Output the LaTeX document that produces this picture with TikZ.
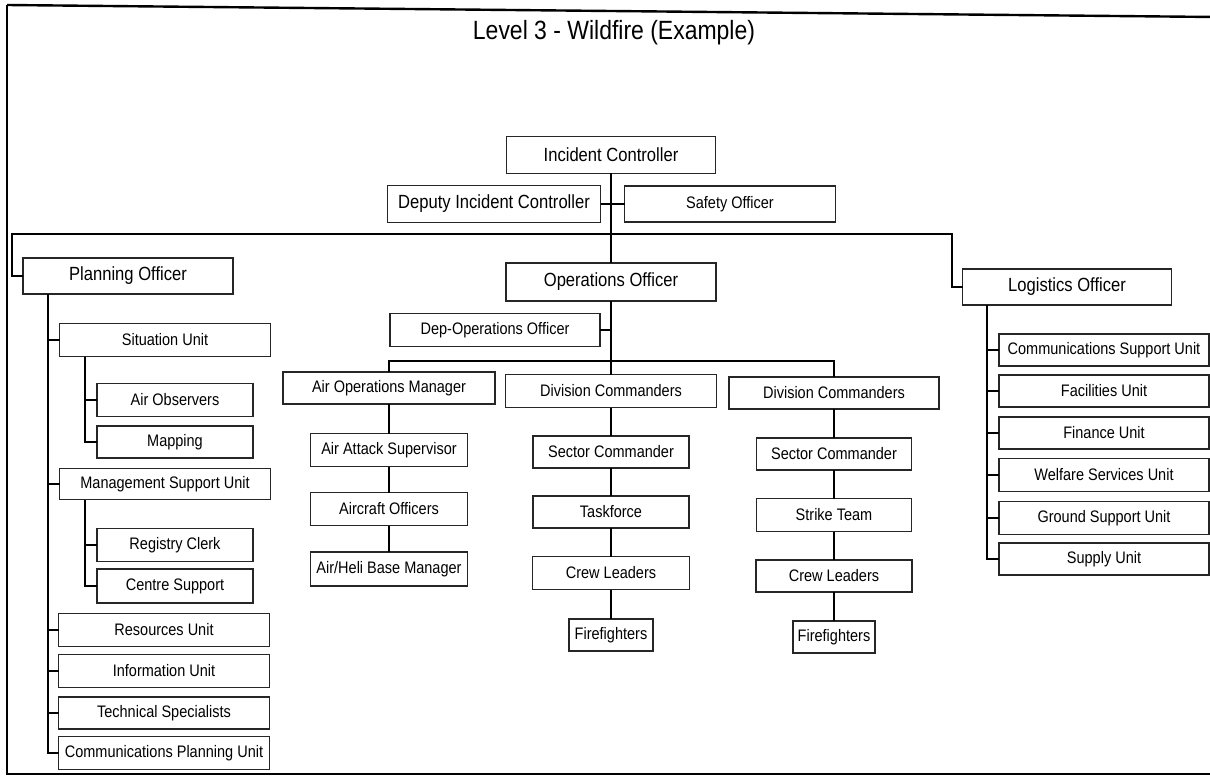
\documentclass[tikz,border=0pt]{standalone}
\usepackage{fontspec}
\setmainfont{Liberation Sans}[FakeStretch=0.87]
\begin{document}
\begin{tikzpicture}[x=0.75pt,y=-0.75pt,
  orgbox/.style={draw=black!85, line width=0.9pt, fill=white, inner sep=0pt, outer sep=0pt,
    align=center, font=\fontsize{12.5}{14}\selectfont},
  headbox/.style={orgbox, font=\fontsize{14.3}{16}\selectfont},
  sz/.style 2 args={minimum width=#1*0.75pt, minimum height=#2*0.75pt},
  link/.style={draw=black, line width=1.5pt},
  frame/.style={draw=black, line width=1.8pt}]
\useasboundingbox (0,0) rectangle (1210,781);

% page frame
\draw[frame] (7,5) -- (1215,17);
\draw[frame] (7,5) -- (7,774) -- (1215,774);

\node[font=\fontsize{19.8}{22}\selectfont] (title) at (614,33) {Level 3 - Wildfire (Example)};

% command
\node[headbox, sz={209}{37}] (ic) at (611,155) {Incident Controller};
\node[headbox, sz={213}{37}] (dic) at (494,204) {Deputy Incident Controller};
\node[orgbox, sz={211}{36}] (safety) at (730,204) {Safety Officer};

% sections
\node[headbox, sz={210}{36}] (po) at (128,276) {Planning Officer};
\node[headbox, sz={210}{38}] (ops) at (611,282) {Operations Officer};
\node[headbox, sz={209}{36}] (lo) at (1067,287) {Logistics Officer};

% operations
\node[orgbox, sz={210}{33}] (depops) at (495,330) {Dep-Operations Officer};
\node[orgbox, sz={212}{32}] (aom) at (389,388) {Air Operations Manager};
\node[orgbox, sz={211}{33}] (dca) at (611,391) {Division Commanders};
\node[orgbox, sz={210}{32}] (dcb) at (834,393) {Division Commanders};

\node[orgbox, sz={157}{33}] (aas) at (389,450) {Air Attack Supervisor};
\node[orgbox, sz={157}{33}] (acft) at (389,509) {Aircraft Officers};
\node[orgbox, sz={157}{34}] (ahbm) at (389,569) {Air/Heli Base Manager};

\node[orgbox, sz={156}{32}] (sca) at (611,452) {Sector Commander};
\node[orgbox, sz={156}{32}] (tf) at (611,512) {Taskforce};
\node[orgbox, sz={157}{33}] (cla) at (611,573) {Crew Leaders};
\node[orgbox, sz={84}{32}] (ffa) at (611,635) {Firefighters};

\node[orgbox, sz={155}{32}] (scb) at (834,454) {Sector Commander};
\node[orgbox, sz={155}{33}] (stk) at (834,515) {Strike Team};
\node[orgbox, sz={156}{32}] (clb) at (834,576) {Crew Leaders};
\node[orgbox, sz={82}{32}] (ffb) at (834,637) {Firefighters};

% planning
\node[orgbox, sz={211}{33}] (su) at (165,340) {Situation Unit};
\node[orgbox, sz={156}{33}] (aobs) at (175,400) {Air Observers};
\node[orgbox, sz={156}{32}] (mapg) at (175,442) {Mapping};
\node[orgbox, sz={211}{31}] (msu) at (165,484) {Management Support Unit};
\node[orgbox, sz={156}{33}] (rclk) at (175,545) {Registry Clerk};
\node[orgbox, sz={156}{34}] (csup) at (175,586) {Centre Support};
\node[orgbox, sz={211}{33}] (ru) at (164,630) {Resources Unit};
\node[orgbox, sz={211}{33}] (iu) at (164,671) {Information Unit};
\node[orgbox, sz={211}{32}] (tsp) at (164,713) {Technical Specialists};
\node[orgbox, sz={211}{33}] (cpu) at (164,753) {Communications Planning Unit};

% logistics
\node[orgbox, sz={210}{32}] (csu) at (1104,350) {Communications Support Unit};
\node[orgbox, sz={210}{32}] (fac) at (1104,391) {Facilities Unit};
\node[orgbox, sz={210}{32}] (fin) at (1104,433) {Finance Unit};
\node[orgbox, sz={210}{33}] (wsu) at (1104,475) {Welfare Services Unit};
\node[orgbox, sz={210}{33}] (gsu) at (1104,518) {Ground Support Unit};
\node[orgbox, sz={210}{32}] (sup) at (1104,559) {Supply Unit};

% trunk and bus positions
\coordinate (busL) at (12,234);
\coordinate (busR) at (952,234);
\coordinate (divbus) at (0,361);
\coordinate (ptrunk) at (48,0);
\coordinate (strunk) at (85,0);
\coordinate (ltrunk) at (987,0);

% command links
\draw[link] (ic.south) -- (ops.north);
\draw[link] (dic.east) -- (safety.west);
\draw[link] (po.west) -| (busL) -- (busR) |- (lo.west);

% operations links
\draw[link] (ops.south) -- (dca.north);
\draw[link] (depops.east) -- (depops.east -| ops.south);
\draw[link] (aom.north) |- (dcb.north |- divbus) -- (dcb.north);
\draw[link] (aom) -- (aas) -- (acft) -- (ahbm);
\draw[link] (dca) -- (sca) -- (tf) -- (cla) -- (ffa);
\draw[link] (dcb) -- (scb) -- (stk) -- (clb) -- (ffb);

% planning links
\foreach \c in {su,msu,ru,iu,tsp,cpu}
  \draw[link] (po.south -| ptrunk) |- (\c.west);
\foreach \c in {aobs,mapg}
  \draw[link] (su.south -| strunk) |- (\c.west);
\foreach \c in {rclk,csup}
  \draw[link] (msu.south -| strunk) |- (\c.west);

% logistics links
\foreach \c in {csu,fac,fin,wsu,gsu,sup}
  \draw[link] (lo.south -| ltrunk) |- (\c.west);
\end{tikzpicture}
\end{document}
